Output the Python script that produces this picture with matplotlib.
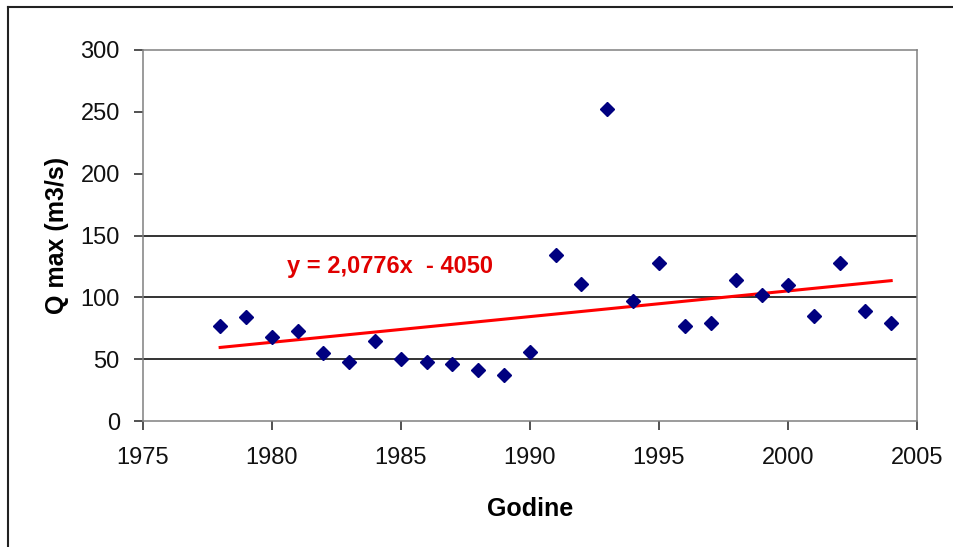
import numpy as np
import matplotlib.pyplot as plt
from matplotlib.lines import Line2D

plt.rcParams['font.family'] = ['Liberation Sans', 'DejaVu Sans']

# Data
years = [1978, 1979, 1980, 1981, 1982, 1983, 1984, 1985, 1986, 1987,
         1988, 1989, 1990, 1991, 1992, 1993, 1994, 1995, 1996, 1997,
         1998, 1999, 2000, 2001, 2002, 2003, 2004]
q_max = [77, 84, 68, 73, 55, 48, 65, 50, 48, 46,
         41, 37, 56, 134, 111, 252, 97, 128, 77, 79,
         114, 102, 110, 85, 128, 89, 79]

# Linear trend as given on the chart
slope = 2.0776
intercept = -4050
trend_label = "y = 2,0776x  - 4050"

x_ticks = [1975, 1980, 1985, 1990, 1995, 2000, 2005]
y_ticks = [0, 50, 100, 150, 200, 250, 300]
grid_levels = [50, 100, 150]

fig = plt.figure(figsize=(9.54, 5.47), dpi=100)
ax = fig.add_axes([0.1496, 0.2303, 0.8116, 0.6783])

# gridlines only where they show in the picture
for g in grid_levels:
    ax.axhline(g, color='#111111', linewidth=1.2, zorder=1)

# trend line
tx = np.array([years[0], years[-1]])
ax.plot(tx, slope * tx + intercept, color='#ff0000', linewidth=2.2, zorder=2)

# points
ax.plot(years, q_max, linestyle='none', marker='D', markersize=6.7,
        color='#000080', markeredgecolor='#000080', zorder=3)

ax.text(1980.6, 125, trend_label, color='#e00000', fontsize=17,
        fontweight='bold', va='center', ha='left')

ax.set_xlim(1975, 2005)
ax.set_ylim(0, 300)
ax.set_xticks(x_ticks)
ax.set_yticks(y_ticks)
ax.tick_params(axis='both', direction='out', length=6.5, width=1.1,
               color='#222222', labelsize=17, labelcolor='#111111')
ax.tick_params(axis='y', pad=10)
ax.tick_params(axis='x', pad=12.5)

for s in ax.spines.values():
    s.set_color('#808080')
    s.set_linewidth(1.1)

ax.set_xlabel('Godine', fontsize=18, fontweight='bold', labelpad=20)
ax.set_ylabel('Q max (m3/s)', fontsize=18, fontweight='bold', labelpad=8)

# outer chart frame (top and left edges visible in the picture)
fig.add_artist(Line2D([8 / 954, 8 / 954], [0, 1 - 7 / 547],
                      transform=fig.transFigure, color='#222222', linewidth=1.5))
fig.add_artist(Line2D([8 / 954, 1], [1 - 7 / 547, 1 - 7 / 547],
                      transform=fig.transFigure, color='#222222', linewidth=1.5))

fig.savefig('out.png', dpi=100, facecolor='white')
